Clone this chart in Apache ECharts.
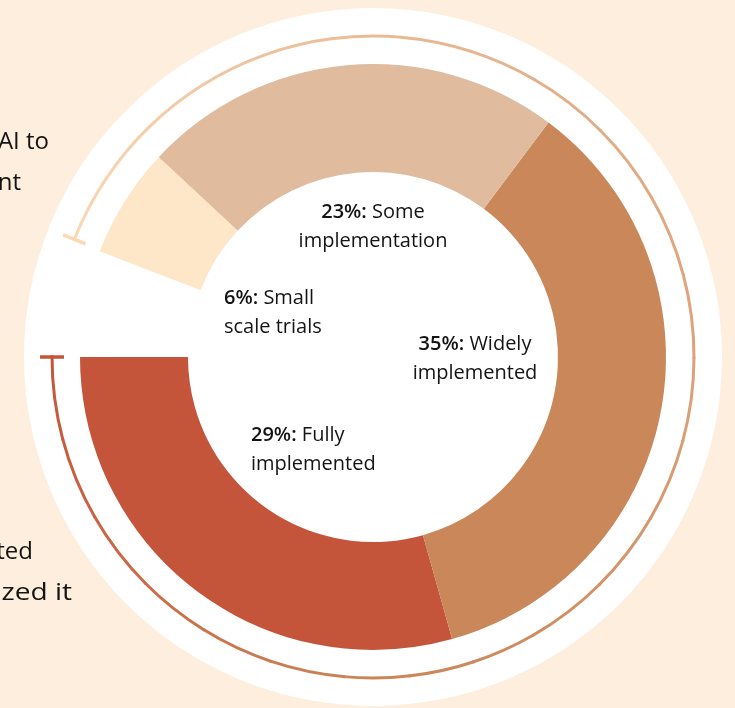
<!DOCTYPE html>
<html>
<head>
<meta charset="utf-8">
<script src="https://cdn.jsdelivr.net/npm/echarts@6/dist/echarts.min.js"></script>
<style>
html,body{margin:0;padding:0;background:#FEEEDD;}
#chart{width:735px;height:708px;}
</style>
</head>
<body>
<div id="chart"></div>
<script>
// ---- data ----
const categories = ['Fully implemented', 'Widely implemented', 'Some implementation', 'Small scale trials'];
const shares = [29, 35, 23, 6];
const unlabelledShare = 5.8;           // white gap (not shown)
const sliceColors = ['#C4543A', '#C9875A', '#E0BB9E', '#FEE6C8'];
const sideTexts = ['Plan to use AI to', 'improve recruitment', 'Have implemented', 'or optimized it'];

// ---- layout ----
const CX = 373, CY = 357;
const FONT = '"Open Sans", "DejaVu Sans", sans-serif';
const labelLayout = [
  {x: 251, y: 450, align: 'left'},
  {x: 475, y: 359, align: 'center'},
  {x: 373, y: 227, align: 'center'},
  {x: 224, y: 313, align: 'left'}
];
const sideLayout = [
  {x: 49, y: 142, sx: 1}, {x: 21, y: 183, sx: 1}, {x: 33, y: 552, sx: 1}, {x: 72, y: 593, sx: 1.17}
];
// decorative outer arc: colour stops along the angle (math degrees)
const arcStops = [
  [158.5, '#FAD9B4'], [110, '#EDC29D'], [60, '#E4B08A'], [0, '#DCA37A'],
  [-60, '#CE8D61'], [-95, '#C98458'], [-135, '#CB6C48'], [-180, '#C4553A']
];
const ARC_R = 321;

function hexToRgb(h){return [parseInt(h.slice(1,3),16),parseInt(h.slice(3,5),16),parseInt(h.slice(5,7),16)];}
function mix(a,b,t){const A=hexToRgb(a),B=hexToRgb(b);return 'rgb('+A.map((v,i)=>Math.round(v+(B[i]-v)*t)).join(',')+')';}
function pt(deg,r){const a=deg*Math.PI/180;return [CX+r*Math.cos(a), CY-r*Math.sin(a)];}

const graphics = [];
// big white disc
graphics.push({type:'circle', shape:{cx:CX, cy:CY, r:349}, style:{fill:'#ffffff'}, z:-10, silent:true});

// gradient arc, split in small pieces
for (let i=0;i<arcStops.length-1;i++){
  const [a0,c0]=arcStops[i], [a1,c1]=arcStops[i+1];
  const n = Math.max(1, Math.ceil((a0-a1)/15));
  for (let k=0;k<n;k++){
    const s = a0-(a0-a1)*k/n, e = a0-(a0-a1)*(k+1)/n;
    const cs = mix(c0,c1,k/n), ce = mix(c0,c1,(k+1)/n);
    const p0=pt(s,ARC_R), p1=pt(e,ARC_R);
    graphics.push({type:'arc', shape:{cx:CX, cy:CY, r:ARC_R, startAngle:-s*Math.PI/180, endAngle:-(e-0.3)*Math.PI/180, clockwise:true},
      style:{fill:null, lineWidth:3, stroke:new echarts.graphic.LinearGradient(p0[0],p0[1],p1[0],p1[1],[{offset:0,color:cs},{offset:1,color:ce}],true)},
      z:-5, silent:true});
  }
}
// end caps
function cap(deg,color){
  const a=pt(deg,ARC_R-12), b=pt(deg,ARC_R+12);
  graphics.push({type:'line', shape:{x1:a[0],y1:a[1],x2:b[0],y2:b[1]}, style:{stroke:color, lineWidth:3.5}, z:-4, silent:true});
}
cap(arcStops[0][0], arcStops[0][1]);
cap(arcStops[arcStops.length-1][0], arcStops[arcStops.length-1][1]);

// inner labels
categories.forEach((c,i)=>{
  const sp = c.indexOf(' ');
  const txt = '{b|' + shares[i] + '%:} ' + c.slice(0,sp) + '\n' + c.slice(sp+1);
  const L = labelLayout[i];
  graphics.push({type:'text', z:20, silent:true, style:{
    text: txt, x:L.x, y:L.y, align:L.align, verticalAlign:'middle',
    fill:'#141414', fontFamily:FONT, fontSize:20, lineHeight:29,
    rich:{b:{fontWeight:600, fontFamily:FONT, fontSize:20, fill:'#141414', lineHeight:29}}
  }});
});
// side texts (cut off at the left edge)
sideTexts.forEach((t,i)=>{
  const L = sideLayout[i];
  graphics.push({type:'text', z:20, silent:true, x:L.x, y:L.y, scaleX:L.sx, style:{
    text:t, x:0, y:0, align:'right', verticalAlign:'middle',
    fill:'#141414', fontFamily:FONT, fontSize:24
  }});
});

const pieData = categories.map((c,i)=>({name:c, value:shares[i], itemStyle:{color:sliceColors[i]}}));
pieData.push({name:'gap', value:unlabelledShare, itemStyle:{color:'rgba(0,0,0,0)'}});

const chart = echarts.init(document.getElementById('chart'), null, {renderer:'canvas'});
chart.setOption({
  backgroundColor:'#FEEEDD',
  animation:false,
  series:[{
    type:'pie', center:[CX,CY], radius:[185,293], startAngle:180, clockwise:false,
    silent:true, label:{show:false}, labelLine:{show:false}, emphasis:{disabled:true},
    itemStyle:{borderWidth:0}, data:pieData, z:2
  }],
  graphic: graphics
});
</script>
</body>
</html>
